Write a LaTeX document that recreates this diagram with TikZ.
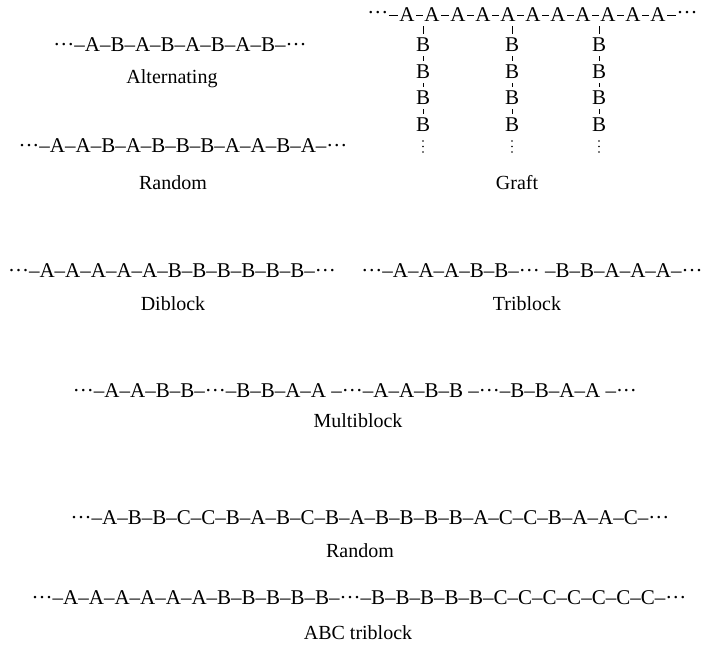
\documentclass[tikz,border=0pt]{standalone}
\usepackage{fontspec}
\setmainfont{Liberation Serif}
\usetikzlibrary{positioning}
\newcommand{\chdots}{\textperiodcentered\textperiodcentered\textperiodcentered}

\begin{document}
\begin{tikzpicture}[x=0.5pt,y=-0.5pt,font=\fontsize{10}{12}\selectfont,
  chain/.style={inner sep=0pt,font=\fontsize{10.5}{12}\selectfont},
  kind/.style={inner sep=0pt},
  unitA/.style={inner sep=0.6pt,font=\fontsize{10.5}{12}\selectfont},
  unitB/.style={inner sep=2pt,font=\fontsize{10.5}{12}\selectfont},
  bond/.style={line width=0.5pt}]
  \useasboundingbox (0,0) rectangle (702,648);
  % two-unit sequences, left column
  \node[chain] (alt) at (180,45) {\chdots--A--B--A--B--A--B--A--B--\chdots};
  \node[kind] (altname) at (172,79) {Alternating};
  \node[chain] (rnd) at (183,146) {\chdots--A--A--B--A--B--B--B--A--A--B--A--\chdots};
  \node[kind] (rndname) at (173,183) {Random};
  % graft: A backbone with B side chains
  \foreach \x [count=\i] in {407,432,458,483,508,533,558,583,608,633,658}
    \node[unitA] (a\i) at (\x,15) {A};
  \node[chain,left=4.5pt of a1] (gl) {\chdots};
  \node[chain,right=4.5pt of a11] (gr) {\chdots};
  \draw[bond] (gl) -- (a1);
  \foreach \i in {1,...,10} {
    \pgfmathtruncatemacro\j{\i+1}
    \draw[bond] (a\i) -- (a\j);
  }
  \draw[bond] (a11) -- (gr);
  \foreach \x [count=\k] in {423,512,599} {
    \coordinate (top\k) at (\x,26);
    \foreach \y [count=\m] in {45,72,98,125}
      \node[unitB] (b\k\m) at (\x,\y) {B};
    \draw[bond] (top\k) -- (b\k1) -- (b\k2) -- (b\k3) -- (b\k4);
    % chain goes on
    \foreach \d in {141,146.5,152}
      \fill (\x,\d) circle (0.45pt);
  }
  \node[kind] (graftname) at (517,183) {Graft};
  % block copolymers
  \node[chain] (di) at (172,271) {\chdots--A--A--A--A--A--B--B--B--B--B--B--\chdots};
  \node[kind] (diname) at (173,304) {Diblock};
  \node[chain] (tri) at (532,271) {\chdots--A--A--A--B--B--\chdots\ --B--B--A--A--A--\chdots};
  \node[kind] (triname) at (527,304) {Triblock};
  \node[chain] (multi) at (355,391) {\chdots--A--A--B--B--\chdots--B--B--A--A --\chdots--A--A--B--B --\chdots--B--B--A--A --\chdots};
  \node[kind] (multiname) at (358,421) {Multiblock};
  % three-unit sequences
  \node[chain] (rnd3) at (370,518) {\chdots--A--B--B--C--C--B--A--B--C--B--A--B--B--B--B--A--C--C--B--A--A--C--\chdots};
  \node[kind] (rnd3name) at (360,551) {Random};
  \node[chain] (abc) at (359,598) {\chdots--A--A--A--A--A--A--B--B--B--B--B--\chdots--B--B--B--B--B--C--C--C--C--C--C--C--\chdots};
  \node[kind] (abcname) at (358,633) {ABC triblock};
\end{tikzpicture}
\end{document}
